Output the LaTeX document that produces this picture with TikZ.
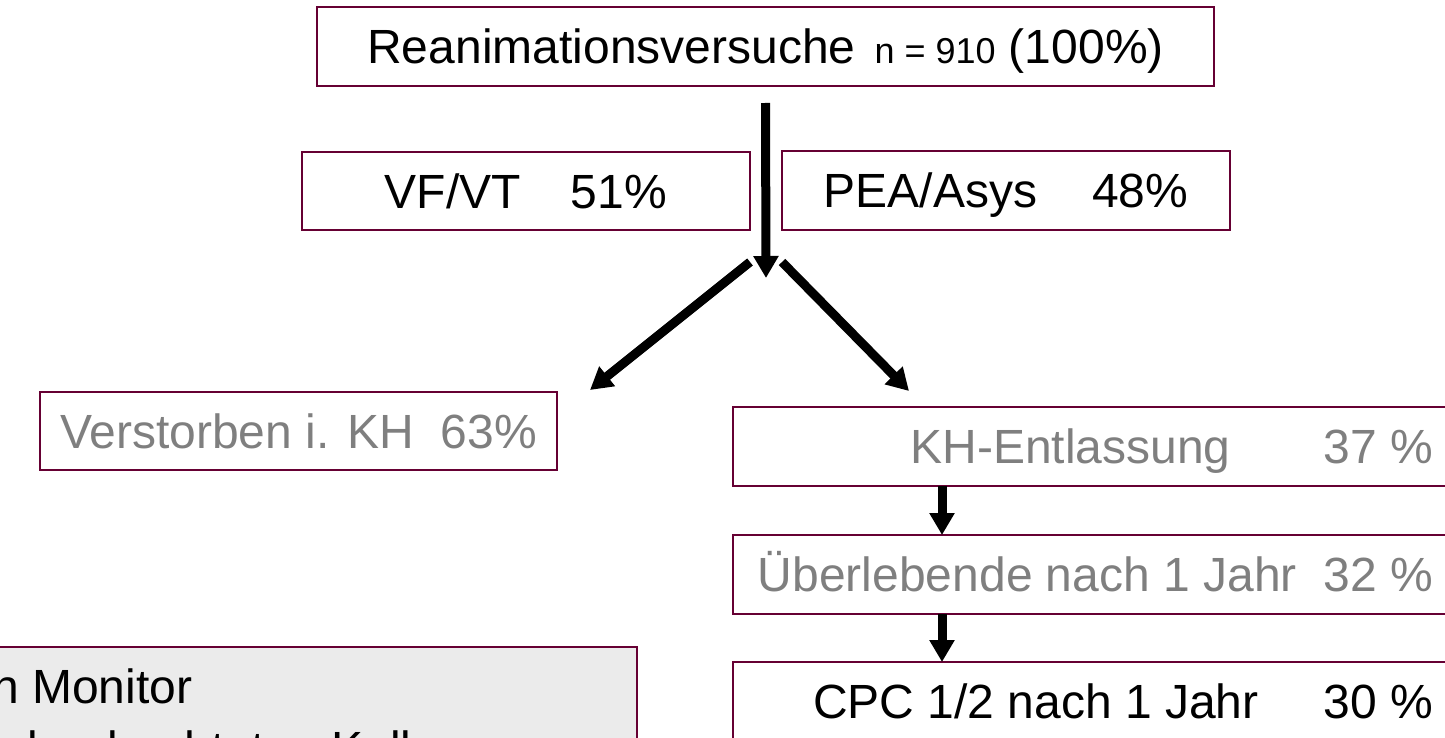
\documentclass[tikz,border=0pt]{standalone}
\usepackage{fontspec}
\setmainfont{Liberation Sans}
\usetikzlibrary{positioning,arrows.meta}
\definecolor{frame}{RGB}{102,0,51}
\definecolor{greytext}{RGB}{127,127,127}
\definecolor{notefill}{RGB}{235,235,235}
\newcommand{\rightpart}[1]{\makebox[680pt][r]{#1}}
\begin{document}
\begin{tikzpicture}[x=1pt, y=-1pt,
    every node/.style={font=\fontsize{48}{58}\selectfont},
    box/.style={draw=frame, line width=2.5pt, inner sep=0pt, outer sep=0pt, text height=34pt, text depth=0pt},
    faded/.style={text=greytext},
    wide/.style={minimum width=720pt, minimum height=79pt},
    flow/.style={line width=9pt, -{Triangle[width=24pt,length=22pt]}}
]
\useasboundingbox (0,0) rectangle (1445,738);
\clip (0,0) rectangle (1445,738);

% Gesamtzahl
\node[box, minimum width=897pt, minimum height=79pt] (total) at (765.5,46.5) {Reanimationsversuche\hspace{19pt}{\fontsize{36}{40}\selectfont n = 910} (100\%)};

% Rhythmen
\node[box, minimum width=448pt, minimum height=78pt] (vf) at (526,191) {VF/VT\hspace{50pt}51\%};
\node[box, minimum width=448pt, minimum height=79pt] (pea) at (1006,190.5) {PEA/Asys\hspace{55pt}48\%};

% Verlauf
\node[box, faded, minimum width=517pt, minimum height=78pt] (dead) at (298.5,431) {Verstorben i. KH\ \ 63\%};
\node[box, faded, wide, anchor=north west] (home) at (733,407) {\rightpart{KH-Entlassung\hspace{93pt}37 \%}};
\node[box, faded, wide, below=49pt of home] (alive) {\rightpart{Überlebende nach 1 Jahr\ \ 32 \%}};
\node[box, wide, below=48pt of alive] (cpc) {\rightpart{CPC 1/2 nach 1 Jahr\hspace{65pt}30 \%}};

% Kasten unten links
\node[box, fill=notefill, anchor=north west, minimum width=660pt, minimum height=150pt] (note) at (-23,647) {};
\node[anchor=base west, inner sep=0pt] (noteA) at (-8,703) {n Monitor};
\node[anchor=base west, inner sep=0pt] (noteB) at (27,765) {beobachteten Kollaps};

% Pfeile
\coordinate (fork) at (766,278);
\coordinate (forkL) at (750,262);
\coordinate (forkR) at (782,262);
\coordinate (deadtip) at (590,390);
\coordinate (hometip) at (909,391);
\draw[flow] ([yshift=-17pt]total.south) -- (fork);
\draw[flow] (forkL) -- (deadtip);
\draw[flow] (forkR) -- (hometip);
\draw[flow] ([xshift=209pt]home.south west) -- ([xshift=209pt]alive.north west);
\draw[flow] ([xshift=209pt]alive.south west) -- ([xshift=209pt]cpc.north west);

\end{tikzpicture}
\end{document}
